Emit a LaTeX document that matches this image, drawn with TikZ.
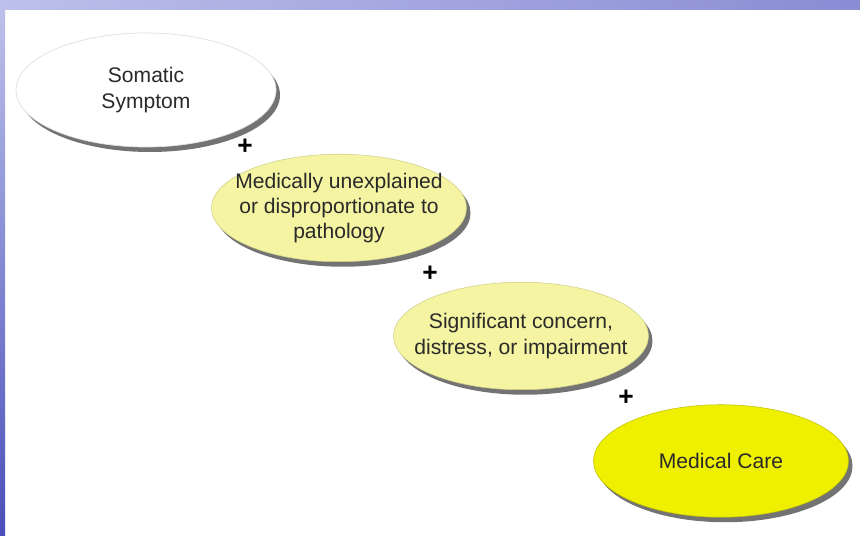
\documentclass[tikz,border=0pt]{standalone}
\usepackage{fontspec}
\setmainfont{Liberation Sans}
\usepackage{xcolor}
\usetikzlibrary{shapes.geometric,shadows}

\definecolor{frameLight}{HTML}{BCC0EA}
\definecolor{frameDark}{HTML}{4A4FBA}
\definecolor{frameMid}{HTML}{8A8CD4}
\definecolor{paleYellow}{HTML}{F4F4A2}
\definecolor{brightYellow}{HTML}{EFEF00}
\definecolor{textGray}{HTML}{2A2A2A}

\begin{document}
\begin{tikzpicture}[
    bubble/.style={ellipse, inner xsep=-0.4cm, inner ysep=0pt,
        minimum width=5.1cm, minimum height=2.15cm,
        align=center, text=textGray, font={\fontsize{12}{14.4}\selectfont},
        drop shadow={shadow xshift=0.08cm, shadow yshift=-0.1cm, fill=black, opacity=0.55}},
    plus/.style={font={\fontsize{15}{15}\selectfont\bfseries}, text=black, inner sep=0pt}
]

    % ==========================================
    % FRAME: blue border and white panel
    % ==========================================
    \useasboundingbox (0,0) rectangle (17.2,10.72);
    \fill[white] (0,0) rectangle (17.2,10.72);

    % Top strip
    \shade[left color=frameLight, middle color=frameDark, right color=frameMid]
        (0,10.52) rectangle (17.2,10.72);

    % Left strip
    \shade[top color=frameLight, bottom color=frameDark]
        (0,0) rectangle (0.1,10.52);

    % ==========================================
    % STEPS: criteria ellipses
    % ==========================================

    % First criterion (white)
    \node[bubble, fill=white, draw=black!12, minimum width=5.2cm, minimum height=2.28cm]
        (somatic) at (2.92, 8.92) {Somatic\\Symptom};

    % Second criterion (pale yellow)
    \node[bubble, fill=paleYellow, draw=paleYellow!85!black, line width=0.3pt]
        (unexplained) at (6.78, 6.56) {Medically unexplained\\or disproportionate to\\pathology};

    % Third criterion (pale yellow)
    \node[bubble, fill=paleYellow, draw=paleYellow!85!black, line width=0.3pt]
        (concern) at (10.42, 4.0) {Significant concern,\\distress, or impairment};

    % Last criterion (bright yellow)
    \node[bubble, fill=brightYellow, draw=brightYellow!80!black, line width=0.3pt, minimum height=2.25cm]
        (care) at (14.42, 1.5) {Medical Care};

    % Plus signs between the steps
    \node[plus] (plusA) at (4.9, 7.78) {+};
    \node[plus] (plusB) at (8.6, 5.24) {+};
    \node[plus] (plusC) at (12.52, 2.76) {+};

\end{tikzpicture}
\end{document}
